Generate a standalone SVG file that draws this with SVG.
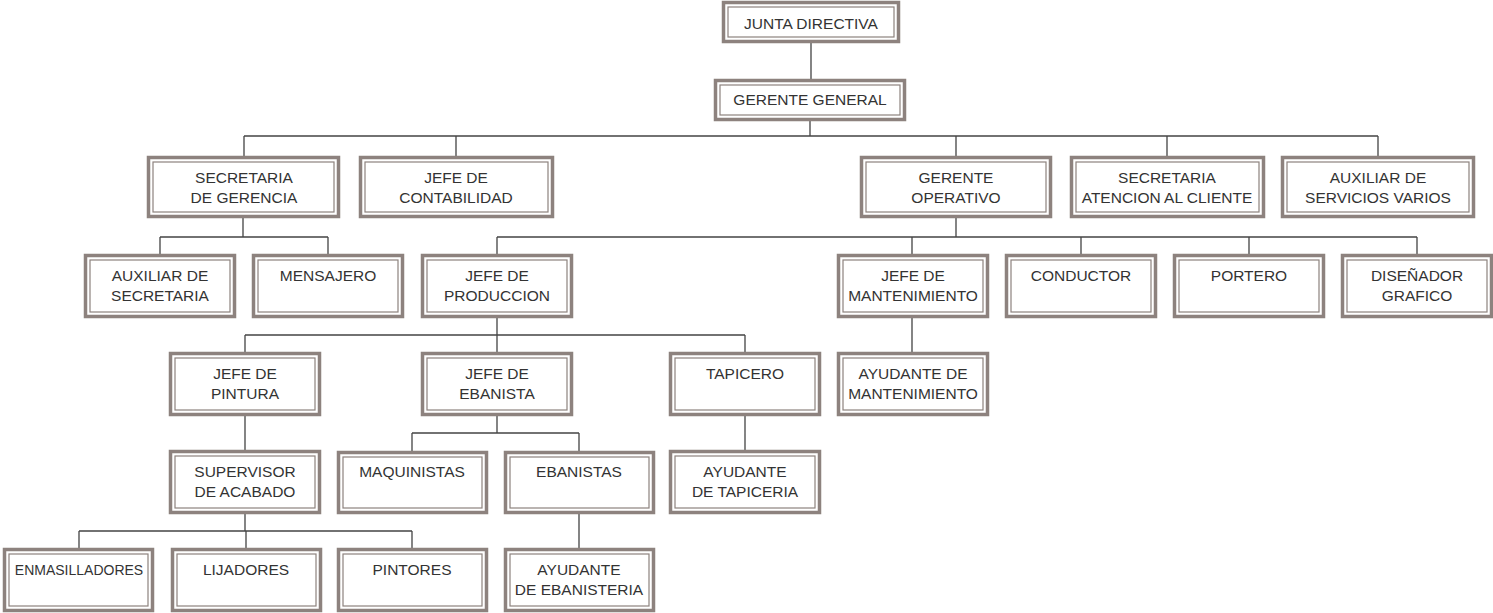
<svg xmlns="http://www.w3.org/2000/svg" width="1493" height="613" viewBox="0 0 1493 613">
<style>
.o{fill:#fff;stroke:#8d827e;stroke-width:3.5}
.i{fill:none;stroke:#8d827e;stroke-width:1.2}
.t{font-family:"Liberation Sans",Arial,sans-serif;font-size:15.5px;fill:#333;text-anchor:middle}
.c{fill:none;stroke:#444;stroke-width:1.3}
</style>
<rect width="1493" height="613" fill="#fff"/>
<g id="connectors" class="c">
<path d="M811 43V79M810 121V136M244 136H1378M244 136V156M456 136V156M956 136V156M1167 136V156M1378 136V156"/>
<path d="M243 218V237M160 237H328M160 237V254M328 237V254"/>
<path d="M956 218V237M497 237H1417M497 237V254M912 237V254M1081 237V254M1249 237V254M1417 237V254"/>
<path d="M497 318V335M245 335H745M245 335V352M497 335V352M745 335V352M912 318V352"/>
<path d="M245 416V450M497 416V433M412 433H579M412 433V451M579 433V451M745 416V450"/>
<path d="M245 514V531M79 531H412M79 531V548M246 531V548M412 531V548M579 514V548"/>
</g>
<g id="junta"><rect class="o" x="723.5" y="2.5" width="175" height="39"/><rect class="i" x="728" y="7" width="166" height="30"/><text class="t" x="811" y="29">JUNTA DIRECTIVA</text></g>
<g id="gerente_general"><rect class="o" x="715.5" y="80.5" width="189" height="39"/><rect class="i" x="720" y="85" width="180" height="30"/><text class="t" x="810" y="105">GERENTE GENERAL</text></g>
<g id="secretaria_gerencia"><rect class="o" x="148.5" y="157.5" width="190" height="59"/><rect class="i" x="153" y="162" width="181" height="50"/><text class="t" x="244" y="183">SECRETARIA</text><text class="t" x="244" y="203">DE GERENCIA</text></g>
<g id="jefe_contabilidad"><rect class="o" x="360.5" y="157.5" width="192" height="59"/><rect class="i" x="365" y="162" width="183" height="50"/><text class="t" x="456" y="183">JEFE DE</text><text class="t" x="456" y="203">CONTABILIDAD</text></g>
<g id="gerente_operativo"><rect class="o" x="861.5" y="157.5" width="189" height="59"/><rect class="i" x="866" y="162" width="180" height="50"/><text class="t" x="956" y="183">GERENTE</text><text class="t" x="956" y="203">OPERATIVO</text></g>
<g id="secretaria_atencion"><rect class="o" x="1071.5" y="157.5" width="192" height="59"/><rect class="i" x="1076" y="162" width="183" height="50"/><text class="t" x="1167" y="183">SECRETARIA</text><text class="t" x="1167" y="203">ATENCION AL CLIENTE</text></g>
<g id="auxiliar_servicios"><rect class="o" x="1282.5" y="157.5" width="191" height="59"/><rect class="i" x="1287" y="162" width="182" height="50"/><text class="t" x="1378" y="183">AUXILIAR DE</text><text class="t" x="1378" y="203">SERVICIOS VARIOS</text></g>
<g id="auxiliar_secretaria"><rect class="o" x="85.5" y="255.5" width="149" height="61"/><rect class="i" x="90" y="260" width="140" height="52"/><text class="t" x="160" y="281">AUXILIAR DE</text><text class="t" x="160" y="301">SECRETARIA</text></g>
<g id="mensajero"><rect class="o" x="253.5" y="255.5" width="149" height="61"/><rect class="i" x="258" y="260" width="140" height="52"/><text class="t" x="328" y="281">MENSAJERO</text></g>
<g id="jefe_produccion"><rect class="o" x="422.5" y="255.5" width="149" height="61"/><rect class="i" x="427" y="260" width="140" height="52"/><text class="t" x="497" y="281">JEFE DE</text><text class="t" x="497" y="301">PRODUCCION</text></g>
<g id="jefe_mantenimiento"><rect class="o" x="838.5" y="255.5" width="149" height="61"/><rect class="i" x="843" y="260" width="140" height="52"/><text class="t" x="913" y="281">JEFE DE</text><text class="t" x="913" y="301">MANTENIMIENTO</text></g>
<g id="conductor"><rect class="o" x="1006.5" y="255.5" width="149" height="61"/><rect class="i" x="1011" y="260" width="140" height="52"/><text class="t" x="1081" y="281">CONDUCTOR</text></g>
<g id="portero"><rect class="o" x="1174.5" y="255.5" width="149" height="61"/><rect class="i" x="1179" y="260" width="140" height="52"/><text class="t" x="1249" y="281">PORTERO</text></g>
<g id="disenador"><rect class="o" x="1342.5" y="255.5" width="149" height="61"/><rect class="i" x="1347" y="260" width="140" height="52"/><text class="t" x="1417" y="281">DISEÑADOR</text><text class="t" x="1417" y="301">GRAFICO</text></g>
<g id="jefe_pintura"><rect class="o" x="170.5" y="353.5" width="149" height="61"/><rect class="i" x="175" y="358" width="140" height="52"/><text class="t" x="245" y="379">JEFE DE</text><text class="t" x="245" y="399">PINTURA</text></g>
<g id="jefe_ebanista"><rect class="o" x="422.5" y="353.5" width="149" height="61"/><rect class="i" x="427" y="358" width="140" height="52"/><text class="t" x="497" y="379">JEFE DE</text><text class="t" x="497" y="399">EBANISTA</text></g>
<g id="tapicero"><rect class="o" x="670.5" y="353.5" width="149" height="61"/><rect class="i" x="675" y="358" width="140" height="52"/><text class="t" x="745" y="379">TAPICERO</text></g>
<g id="ayudante_mantenimiento"><rect class="o" x="838.5" y="353.5" width="149" height="61"/><rect class="i" x="843" y="358" width="140" height="52"/><text class="t" x="913" y="379">AYUDANTE DE</text><text class="t" x="913" y="399">MANTENIMIENTO</text></g>
<g id="supervisor_acabado"><rect class="o" x="170.5" y="451.5" width="149" height="61"/><rect class="i" x="175" y="456" width="140" height="52"/><text class="t" x="245" y="477">SUPERVISOR</text><text class="t" x="245" y="497">DE ACABADO</text></g>
<g id="maquinistas"><rect class="o" x="338.5" y="452.5" width="148" height="60"/><rect class="i" x="343" y="457" width="139" height="51"/><text class="t" x="412" y="477">MAQUINISTAS</text></g>
<g id="ebanistas"><rect class="o" x="505.5" y="452.5" width="148" height="60"/><rect class="i" x="510" y="457" width="139" height="51"/><text class="t" x="579" y="477">EBANISTAS</text></g>
<g id="ayudante_tapiceria"><rect class="o" x="670.5" y="451.5" width="149" height="61"/><rect class="i" x="675" y="456" width="140" height="52"/><text class="t" x="745" y="477">AYUDANTE</text><text class="t" x="745" y="497">DE TAPICERIA</text></g>
<g id="enmasilladores"><rect class="o" x="4.5" y="549.5" width="148" height="61"/><rect class="i" x="9" y="554" width="139" height="52"/><text class="t" x="79" y="575" style="font-size:14px">ENMASILLADORES</text></g>
<g id="lijadores"><rect class="o" x="172.5" y="549.5" width="148" height="61"/><rect class="i" x="177" y="554" width="139" height="52"/><text class="t" x="246" y="575">LIJADORES</text></g>
<g id="pintores"><rect class="o" x="338.5" y="549.5" width="148" height="61"/><rect class="i" x="343" y="554" width="139" height="52"/><text class="t" x="412" y="575">PINTORES</text></g>
<g id="ayudante_ebanisteria"><rect class="o" x="505.5" y="549.5" width="148" height="61"/><rect class="i" x="510" y="554" width="139" height="52"/><text class="t" x="579" y="575">AYUDANTE</text><text class="t" x="579" y="595">DE EBANISTERIA</text></g>
</svg>
